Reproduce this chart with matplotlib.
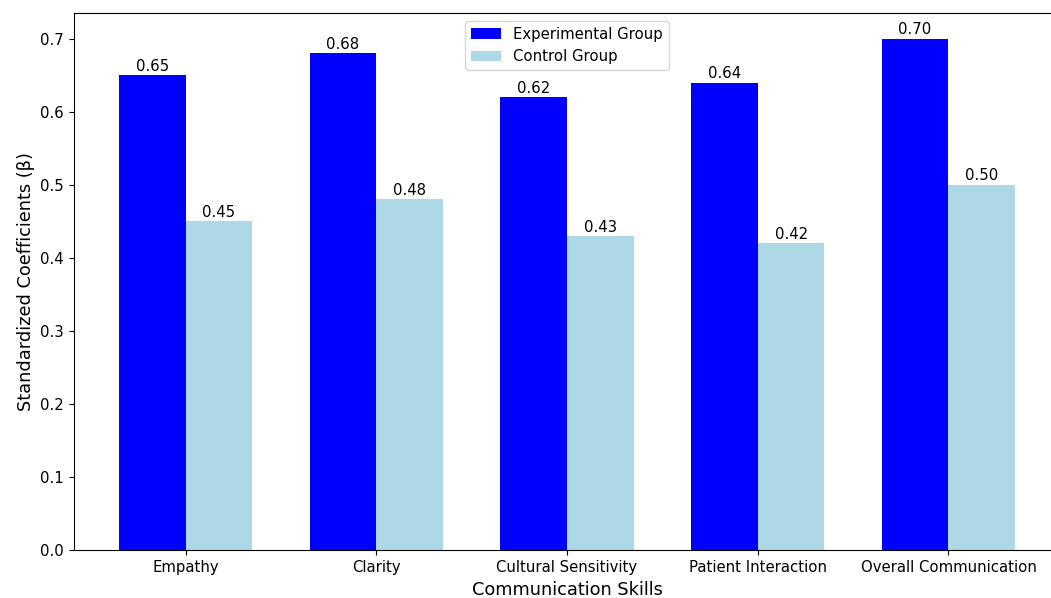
import matplotlib.pyplot as plt
import numpy as np

# Values
skills = ['Empathy', 'Clarity', 'Cultural Sensitivity', 'Patient Interaction', 'Overall Communication']
experimental = [0.65, 0.68, 0.62, 0.64, 0.70]
control = [0.45, 0.48, 0.43, 0.42, 0.50]

x = np.arange(len(skills))
width = 0.35

fig, ax = plt.subplots(figsize=(10.51, 5.98), dpi=100)
b1 = ax.bar(x - width / 2, experimental, width, label='Experimental Group', color='blue')
b2 = ax.bar(x + width / 2, control, width, label='Control Group', color='lightblue')

# Value labels on top of each bar
ax.bar_label(b1, fmt='%.2f', padding=1, fontsize=10.7)
ax.bar_label(b2, fmt='%.2f', padding=1, fontsize=10.7)

ax.set_xticks(x)
ax.set_xticklabels(skills)
ax.tick_params(labelsize=10.7, length=3.7)
ax.set_xlabel('Communication Skills', fontsize=12.8)
ax.set_ylabel('Standardized Coefficients (β)', fontsize=12.8)
ax.legend(loc='upper center', fontsize=10.7)

# the reference is cropped slightly on the right, so the axes runs past the edge
plt.subplots_adjust(left=0.0704, right=1.0086, top=0.978, bottom=0.0803)
plt.savefig('out.png', dpi=100)
